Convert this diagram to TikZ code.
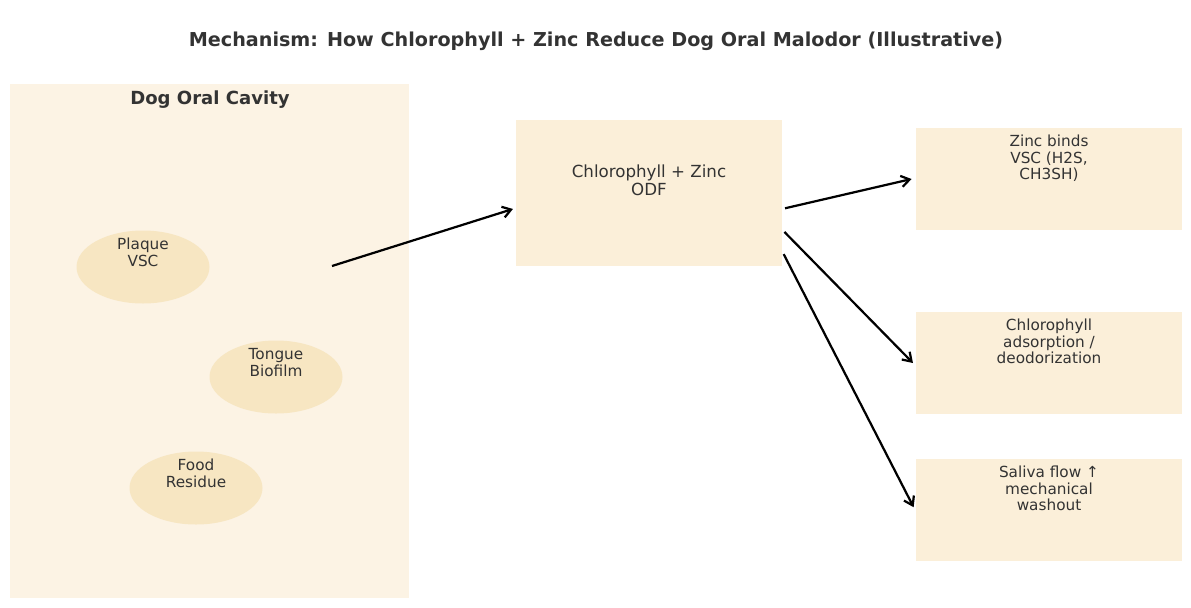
\documentclass[tikz,border=0pt]{standalone}
\usepackage{fontspec}
\setmainfont{DejaVu Sans}
\usetikzlibrary{arrows.meta,positioning,calc,shapes.geometric}
\definecolor{inkgray}{HTML}{333333}
\definecolor{panelfill}{HTML}{FCF3E4}
\definecolor{boxfill}{HTML}{FBEFD9}
\definecolor{spotfill}{HTML}{F7E6C2}

\begin{document}
\begin{tikzpicture}[x=0.72pt, y=-0.72pt,
  panel/.style={rectangle, fill=panelfill, inner sep=0pt, minimum width=399*0.72pt, minimum height=514*0.72pt},
  spot/.style={ellipse, fill=spotfill, inner sep=0pt, minimum width=133*0.72pt, minimum height=73*0.72pt},
  effectbox/.style={rectangle, fill=boxfill, inner sep=0pt, minimum width=266*0.72pt, minimum height=102*0.72pt},
  lbl/.style={text=inkgray, align=center, font=\fontsize{11}{12}\selectfont, inner sep=0pt},
  arr/.style={-{Straight Barb[length=6pt, width=8pt]}, line width=1.6pt, black}
]
  \useasboundingbox (0,0) rectangle (1191,607);

  \node[text=inkgray, font=\fontsize{13.8}{17}\selectfont\bfseries] (title) at (596,41) {Mechanism: How Chlorophyll + Zinc Reduce Dog Oral Malodor (Illustrative)};

  % oral cavity panel
  \node[panel] (cavity) at (209.5,341) {};
  \node[text=inkgray, font=\fontsize{13}{15}\selectfont\bfseries] (cavitytitle) at (210,100) {Dog Oral Cavity};

  \node[spot] (plaque) at (143,267) {};
  \node[lbl, anchor=north] at (143,238) {Plaque\\VSC};
  \node[spot] (tongue) at (276,377) {};
  \node[lbl, anchor=north] at (276,348) {Tongue\\Biofilm};
  \node[spot] (food) at (196,488) {};
  \node[lbl, anchor=north] at (196,459) {Food\\Residue};

  % treatment
  \node[rectangle, fill=boxfill, minimum width=266*0.72pt, minimum height=146*0.72pt] (odf) at (649,193) {};
  \node[text=inkgray, align=center, font=\fontsize{12}{13}\selectfont, inner sep=0pt] at (649,180) {Chlorophyll + Zinc\\ODF};

  % effects
  \node[effectbox] (zinc) at (1049,179) {};
  \node[lbl, anchor=north] at (zinc.north) [yshift=-5pt] {Zinc binds\\VSC (H2S,\\CH3SH)};
  \node[effectbox] (adsorb) at (1049,363) {};
  \node[lbl, anchor=north] at (adsorb.north) [yshift=-5pt] {Chlorophyll\\adsorption /\\deodorization};
  \node[effectbox] (saliva) at (1049,510) {};
  \node[lbl, anchor=north] at (saliva.north) [yshift=-5pt] {Saliva flow ↑\\mechanical\\washout};

  \coordinate (mouth) at (332,266);
  \draw[arr] (mouth) -- ([xshift=-2pt, yshift=-11.5pt]odf.west);
  \draw[arr] ([xshift=2pt, yshift=-11pt]odf.east) -- ([xshift=-3pt]zinc.west);
  \draw[arr] ([xshift=1.5pt, yshift=-28pt]odf.east) -- ([xshift=-2pt]adsorb.west);
  \draw[arr] ([xshift=1pt, yshift=-44pt]odf.east) -- ([xshift=-1.5pt, yshift=2pt]saliva.west);
\end{tikzpicture}
\end{document}
